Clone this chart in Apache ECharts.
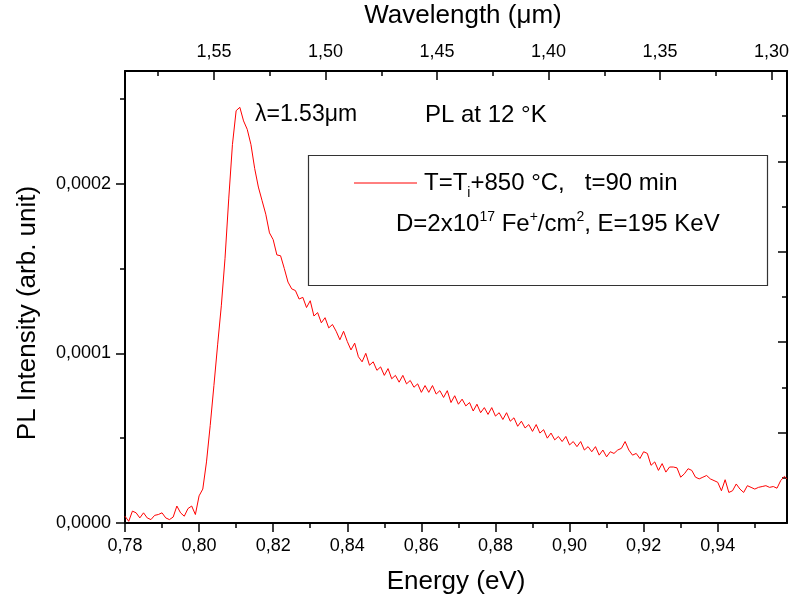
<!DOCTYPE html>
<html>
<head>
<meta charset="utf-8">
<script src="https://cdn.jsdelivr.net/npm/echarts@6/dist/echarts.min.js"></script>
<style>html,body{margin:0;padding:0;background:#fff}#c{width:791px;height:604px}</style>
</head>
<body>
<div id="c"></div>
<script>
// Photon energy (eV)
const energy = [
0.780,0.781,0.782,0.783,0.784,0.785,0.786,0.787,0.788,0.789,
0.790,0.791,0.792,0.793,0.794,0.795,0.796,0.797,0.798,0.799,
0.800,0.801,0.802,0.803,0.804,0.805,0.806,0.807,0.808,0.809,
0.810,0.811,0.812,0.813,0.814,0.815,0.816,0.817,0.818,0.819,
0.820,0.821,0.822,0.823,0.824,0.825,0.826,0.827,0.828,0.829,
0.830,0.831,0.832,0.833,0.834,0.835,0.836,0.837,0.838,0.839,
0.840,0.841,0.842,0.843,0.844,0.845,0.846,0.847,0.848,0.849,
0.850,0.851,0.852,0.853,0.854,0.855,0.856,0.857,0.858,0.859,
0.860,0.861,0.862,0.863,0.864,0.865,0.866,0.867,0.868,0.869,
0.870,0.871,0.872,0.873,0.874,0.875,0.876,0.877,0.878,0.879,
0.880,0.881,0.882,0.883,0.884,0.885,0.886,0.887,0.888,0.889,
0.890,0.891,0.892,0.893,0.894,0.895,0.896,0.897,0.898,0.899,
0.900,0.901,0.902,0.903,0.904,0.905,0.906,0.907,0.908,0.909,
0.910,0.911,0.912,0.913,0.914,0.915,0.916,0.917,0.918,0.919,
0.920,0.921,0.922,0.923,0.924,0.925,0.926,0.927,0.928,0.929,
0.930,0.931,0.932,0.933,0.934,0.935,0.936,0.937,0.938,0.939,
0.940,0.941,0.942,0.943,0.944,0.945,0.946,0.947,0.948,0.949,
0.950,0.951,0.952,0.953,0.954,0.955,0.956,0.957,0.958,0.9587
];
// PL intensity, in units of 1e-4 (arb. unit)
const intensityE4 = [
0.04,0.01,0.07,0.06,0.03,0.06,0.03,0.02,0.045,0.05,
0.06,0.03,0.02,0.035,0.10,0.06,0.04,0.085,0.10,0.05,
0.16,0.20,0.36,0.575,0.81,1.05,1.28,1.56,1.91,2.23,
2.43,2.45,2.37,2.32,2.23,2.09,1.98,1.90,1.82,1.71,
1.67,1.58,1.575,1.50,1.42,1.38,1.37,1.32,1.33,1.27,
1.31,1.22,1.24,1.18,1.21,1.15,1.17,1.13,1.08,1.13,
1.07,1.02,1.06,0.98,0.95,1.00,0.93,0.95,0.90,0.92,
0.87,0.91,0.85,0.87,0.83,0.87,0.82,0.84,0.80,0.82,
0.77,0.81,0.77,0.81,0.76,0.78,0.74,0.78,0.71,0.75,
0.70,0.73,0.69,0.71,0.66,0.70,0.65,0.68,0.64,0.68,
0.63,0.65,0.61,0.65,0.60,0.62,0.57,0.60,0.56,0.58,
0.54,0.58,0.53,0.55,0.50,0.53,0.49,0.51,0.48,0.51,
0.46,0.48,0.45,0.48,0.43,0.45,0.42,0.45,0.40,0.43,
0.39,0.42,0.41,0.43,0.44,0.48,0.43,0.40,0.41,0.38,
0.42,0.41,0.34,0.36,0.31,0.35,0.30,0.33,0.33,0.325,
0.27,0.29,0.32,0.31,0.27,0.26,0.27,0.28,0.26,0.25,
0.24,0.19,0.255,0.18,0.19,0.23,0.20,0.18,0.22,0.21,
0.20,0.21,0.215,0.22,0.21,0.215,0.205,0.25,0.275,0.26
];
const intensity = intensityE4.map(v => +(v * 1e-4).toPrecision(6));

// Tick labels
const energyTicks = [0.78,0.80,0.82,0.84,0.86,0.88,0.90,0.92,0.94];
const energyMinor = [0.79,0.81,0.83,0.85,0.87,0.89,0.91,0.93,0.95];
const wavelengthTicks = [1.30,1.35,1.40,1.45,1.50,1.55];
const wavelengthMinor = [1.325,1.375,1.425,1.475,1.525,1.575];
const intensityTicks = [0, 0.0001, 0.0002];
const intensityMinor = [0.00005, 0.00015, 0.00025];

const FONT = 'Liberation Sans, Arial, Helvetica, sans-serif';
const E_MIN = 0.78, E_MAX = 0.9587;
const L_MIN = 1.2931, L_MAX = 1.5899;
const I_MIN = 0, I_MAX = 0.0002664;

const comma = d => v => v.toFixed(d).replace('.', ',');

function axis(base, opts) {
  return Object.assign({
    type: 'value',
    splitLine: {show: false},
    axisLine: {show: false, onZero: false, lineStyle: {color: '#000', width: 2}},
    axisTick: {show: false},
    axisLabel: {show: false},
    minorTick: {show: false},
    minorSplitLine: {show: false}
  }, base, opts);
}

const chart = echarts.init(document.getElementById('c'), null, {renderer: 'canvas'});
chart.setOption({
  animation: false,
  backgroundColor: '#fff',
  grid: {left: 125, right: 4, top: 71, bottom: 81, containLabel: false, outerBoundsMode: 'none'},
  xAxis: [
    axis({position: 'bottom', min: E_MIN, max: E_MAX}, {
      axisLine: {show: true, onZero: false, lineStyle: {color: '#000', width: 2}},
      axisTick: {show: true, inside: false, length: 9, lineStyle: {color: '#000', width: 1.5}, customValues: energyTicks},
      axisLabel: {show: true, customValues: energyTicks, formatter: comma(2), margin: 14, color: '#000', fontSize: 18, fontFamily: FONT},
      name: 'Energy (eV)', nameLocation: 'middle', nameGap: 46,
      nameTextStyle: {color: '#000', fontSize: 26, fontFamily: FONT}
    }),
    axis({position: 'bottom', min: E_MIN, max: E_MAX}, {
      axisTick: {show: true, inside: false, length: 5, lineStyle: {color: '#000', width: 1.5}, customValues: energyMinor}
    }),
    axis({position: 'top', min: L_MIN, max: L_MAX, inverse: true}, {
      axisLine: {show: true, onZero: false, lineStyle: {color: '#000', width: 2}},
      axisTick: {show: true, inside: true, length: 9, lineStyle: {color: '#000', width: 1.5}, customValues: wavelengthTicks},
      axisLabel: {show: true, customValues: wavelengthTicks, formatter: comma(2), margin: 10, color: '#000', fontSize: 18, fontFamily: FONT},
      name: 'Wavelength (\u03bcm)', nameLocation: 'middle', nameGap: 42,
      nameTextStyle: {color: '#000', fontSize: 26, fontFamily: FONT, padding: [0, 0, 0, 14]}
    }),
    axis({position: 'top', min: L_MIN, max: L_MAX, inverse: true}, {
      axisTick: {show: true, inside: true, length: 5, lineStyle: {color: '#000', width: 1.5}, customValues: wavelengthMinor}
    })
  ],
  yAxis: [
    axis({position: 'left', min: I_MIN, max: I_MAX}, {
      axisLine: {show: true, onZero: false, lineStyle: {color: '#000', width: 2}},
      axisTick: {show: true, inside: false, length: 9, lineStyle: {color: '#000', width: 1.5}, customValues: intensityTicks},
      axisLabel: {show: true, customValues: intensityTicks, formatter: comma(4), margin: 14, color: '#000', fontSize: 18, fontFamily: FONT}
    }),
    axis({position: 'left', min: I_MIN, max: I_MAX}, {
      axisTick: {show: true, inside: false, length: 5, lineStyle: {color: '#000', width: 1.5}, customValues: intensityMinor}
    }),
    axis({position: 'right', min: 0, max: 10, interval: 2}, {
      axisLine: {show: true, onZero: false, lineStyle: {color: '#000', width: 2}},
      axisTick: {show: true, inside: true, length: 9, lineStyle: {color: '#000', width: 1.5}},
      minorTick: {show: true, splitNumber: 2, length: 5, lineStyle: {color: '#000', width: 1.5}}
    })
  ],
  series: [{
    name: 'T=Ti+850 °C, t=90 min',
    type: 'line',
    xAxisIndex: 0,
    yAxisIndex: 0,
    showSymbol: false,
    symbol: 'none',
    lineStyle: {color: '#ff0000', width: 1},
    data: energy.map((e, i) => [e, intensity[i]])
  }],
  graphic: [
    {type: 'text', x: 28, y: 313, rotation: Math.PI / 2,
     style: {text: 'PL Intensity (arb. unit)', fill: '#000', font: '26px ' + FONT, align: 'center', verticalAlign: 'middle'}},
    {type: 'text', x: 255, y: 115,
     style: {text: '\u03bb=1.53\u03bcm', fill: '#000', font: '23px ' + FONT, align: 'left', verticalAlign: 'middle'}},
    {type: 'text', x: 425, y: 115,
     style: {text: 'PL at 12 \u00b0K', fill: '#000', font: '24px ' + FONT, align: 'left', verticalAlign: 'middle'}},
    {type: 'rect', shape: {x: 308.5, y: 155.5, width: 459, height: 130},
     style: {fill: 'none', stroke: '#333', lineWidth: 1.2}, z: 10},
    {type: 'line', shape: {x1: 354, y1: 183, x2: 417, y2: 183},
     style: {stroke: '#ff0000', lineWidth: 1}, z: 10},
    {type: 'text', x: 424, y: 183, z: 10,
     style: {
       text: '{n|T=T}{s|i}{n|+850 \u00b0C,   t=90 min}',
       align: 'left', verticalAlign: 'middle',
       rich: {
         n: {fontSize: 24, fontFamily: FONT, fill: '#000', lineHeight: 28},
         s: {fontSize: 14, fontFamily: FONT, fill: '#000', lineHeight: 28, verticalAlign: 'bottom', padding: [0, 0, -3, 0]}
       }
     }},
    {type: 'text', x: 396, y: 224, z: 10,
     style: {
       text: '{n|D=2x10}{p|17}{n| Fe}{p|+}{n|/cm}{p|2}{n|, E=195 KeV}',
       align: 'left', verticalAlign: 'middle',
       rich: {
         n: {fontSize: 24, fontFamily: FONT, fill: '#000', lineHeight: 28},
         p: {fontSize: 14, fontFamily: FONT, fill: '#000', lineHeight: 28, verticalAlign: 'top', padding: [0, 0, 0, 0]}
       }
     }}
  ]
});
</script>
</body>
</html>
